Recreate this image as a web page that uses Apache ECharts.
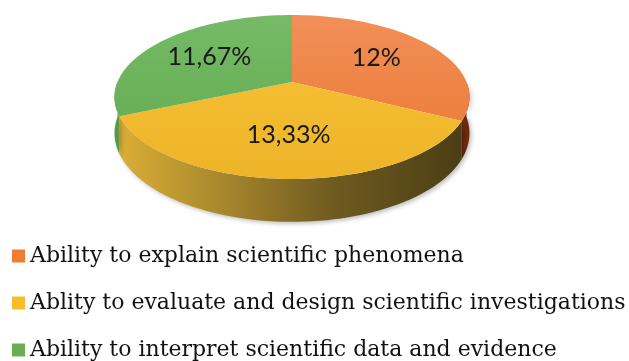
<!DOCTYPE html>
<html>
<head>
<meta charset="utf-8">
<script src="https://cdn.jsdelivr.net/npm/echarts@6/dist/echarts.min.js"></script>
<style>
  html, body { margin: 0; padding: 0; background: #ffffff; }
  #chart { width: 629px; height: 361px; }
</style>
</head>
<body>
<div id="chart"></div>
<script>
// Competency shares shown in the tilted pie
const categories = [
  'Ability to explain scientific phenomena',
  'Ablity to evaluate and design scientific investigations',
  'Ability to interpret scientific data and evidence'
];
const values = [12, 13.33, 11.67];

// Slice styling: top face gradient, side wall gradient stops, legend swatch
const topColors = [['#F28F58', '#E9772F'], ['#FAC334', '#EDB42A'], ['#76BA67', '#5FA94B']];
const sideStops = [
  [[0, '#8A3412'], [1, '#6E2A0E']],
  [[0, '#DDB036'], [0.3, '#A8872D'], [0.62, '#6E5A20'], [1, '#4A3C14']],
  [[0, '#5A9A44'], [1, '#3F7A30']]
];
const swatch = ['#ED7D31', '#F8BD2A', '#6AAF4F'];

// Perspective pie geometry (pixels): centre, horizontal/vertical scale,
// perspective strength and wall height
const CX = 292, CY = 82, AX = 174.5, BY = 79.25, PERSP = 0.183, WALL = 35;

const total = values.reduce((a, b) => a + b, 0);
const deg = Math.PI / 180;

// project a rim point at angle t (degrees, counter-clockwise, 90 = far side)
// at radius fraction k, optionally on the bottom rim
function proj(t, k, bottom) {
  const c = Math.cos(t * deg), toward = -Math.sin(t * deg);
  const w = 1 - PERSP * k * toward;
  return [
    CX + AX * k * c / w,
    CY + (BY * k * toward + (bottom ? WALL : 0)) / w
  ];
}

function rim(a, b, bottom) {
  const n = Math.max(2, Math.ceil(Math.abs(b - a) / 2));
  const out = [];
  for (let i = 0; i <= n; i++) out.push(proj(a + (b - a) * i / n, 1, bottom));
  return out;
}

function formatPct(v) {
  return String(v).replace('.', ',') + '%';
}

function sliceRenderer(idx) {
  return function (params, api) {
    const before = values.slice(0, idx).reduce((a, b) => a + b, 0);
    const v = api.value(0);
    const t0 = 90 - 360 * before / total;
    const t1 = t0 - 360 * v / total;
    const children = [];

    // side wall on the near half of the rim (angles -180..0)
    const a = Math.min(t0, 0), b = Math.max(t1, -180);
    if (a > b) {
      children.push({
        type: 'polygon',
        z2: 0,
        shape: { points: rim(a, b, false).concat(rim(b, a, true)) },
        style: {
          fill: new echarts.graphic.LinearGradient(115, 0, 470, 0,
            sideStops[idx].map(s => ({ offset: s[0], color: s[1] })), true),
          shadowBlur: 4,
          shadowOffsetX: 2,
          shadowOffsetY: 2,
          shadowColor: 'rgba(0,0,0,0.25)'
        }
      });
    }

    // top face
    children.push({
      type: 'polygon',
      z2: 10,
      shape: { points: [[CX, CY]].concat(rim(t0, t1, false)) },
      style: {
        fill: new echarts.graphic.LinearGradient(0, 15, 0, 180, [
          { offset: 0, color: topColors[idx][0] },
          { offset: 1, color: topColors[idx][1] }
        ], true)
      }
    });

    // value label on the face
    const p = proj((t0 + t1) / 2, 0.6, false);
    children.push({
      type: 'text',
      z2: 20,
      style: {
        text: formatPct(v),
        x: p[0],
        y: p[1],
        align: 'center',
        verticalAlign: 'middle',
        fontFamily: 'Lato, "Open Sans", sans-serif',
        fontSize: 25,
        fill: '#1a1a1a'
      }
    });

    return { type: 'group', children: children };
  };
}

const chart = echarts.init(document.getElementById('chart'), null, { renderer: 'canvas' });

chart.setOption({
  animation: false,
  backgroundColor: '#ffffff',
  legend: {
    data: categories,
    orient: 'vertical',
    left: 12,
    top: 245,
    padding: 0,
    height: 116,
    icon: 'rect',
    itemWidth: 13,
    itemHeight: 13,
    itemGap: 25,
    selectedMode: false,
    textStyle: {
      fontFamily: '"DejaVu Serif", serif',
      fontSize: 22,
      color: '#111111'
    }
  },
  series: categories.map((name, i) => ({
    type: 'custom',
    name: name,
    coordinateSystem: 'none',
    itemStyle: { color: swatch[i] },
    renderItem: sliceRenderer(i),
    data: [[values[i]]]
  }))
});
</script>
</body>
</html>
